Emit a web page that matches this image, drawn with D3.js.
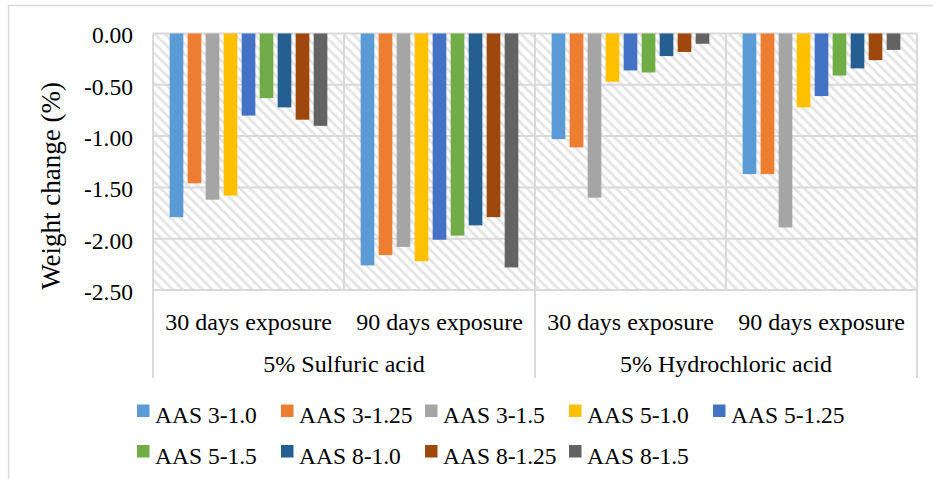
<!DOCTYPE html>
<html>
<head>
<meta charset="utf-8">
<script src="https://cdn.jsdelivr.net/npm/d3@7/dist/d3.min.js"></script>
<style>
  html, body { margin: 0; padding: 0; background: #fff; }
  svg { display: block; }
</style>
</head>
<body>
<svg id="chart" width="933" height="479"></svg>
<script>
// Acid groups and exposure periods (two-level category axis)
const acidGroups = ["5% Sulfuric acid", "5% Hydrochloric acid"];
const exposures = ["30 days exposure", "90 days exposure"];

// Mixes shown as series
const seriesNames = ["AAS 3-1.0", "AAS 3-1.25", "AAS 3-1.5", "AAS 5-1.0", "AAS 5-1.25",
                     "AAS 5-1.5", "AAS 8-1.0", "AAS 8-1.25", "AAS 8-1.5"];
const seriesColors = ["#5B9BD5", "#ED7D31", "#A5A5A5", "#FFC000", "#4472C4",
                      "#70AD47", "#255E91", "#9E480E", "#636363"];

// Weight change (%) per mix: [H2SO4 30d, H2SO4 90d, HCl 30d, HCl 90d]
const aas3_10  = [-1.79, -2.26, -1.03, -1.37];
const aas3_125 = [-1.46, -2.16, -1.11, -1.37];
const aas3_15  = [-1.62, -2.08, -1.60, -1.89];
const aas5_10  = [-1.58, -2.22, -0.47, -0.72];
const aas5_125 = [-0.80, -2.01, -0.36, -0.61];
const aas5_15  = [-0.63, -1.97, -0.38, -0.41];
const aas8_10  = [-0.72, -1.87, -0.22, -0.34];
const aas8_125 = [-0.84, -1.79, -0.18, -0.26];
const aas8_15  = [-0.90, -2.28, -0.10, -0.16];
const seriesValues = [aas3_10, aas3_125, aas3_15, aas5_10, aas5_125, aas5_15, aas8_10, aas8_125, aas8_15];

// Y axis ticks
const yTicks = [0, -0.5, -1.0, -1.5, -2.0, -2.5];
const yTitle = "Weight change (%)";

// Flattened category keys (group|exposure)
const categories = [];
acidGroups.forEach(g => exposures.forEach(e => categories.push(g + "|" + e)));

const svg = d3.select("#chart");
const serif = "Liberation Serif";
const gridColor = "#d9d9d9";
const fontSize = 23.5;
const catFontSize = 24;

const plot = { left: 153, right: 917, top: 33.5, bottom: 290 };
const axisBottom = 378;

// Chart border
svg.append("rect")
  .attr("x", 8.5).attr("y", 5.5)
  .attr("width", 940).attr("height", 490)
  .attr("fill", "#fff").attr("stroke", gridColor).attr("stroke-width", 1.5);

// Diagonal hatch fill for the plot area
const defs = svg.append("defs");
const pat = defs.append("pattern")
  .attr("id", "hatch")
  .attr("patternUnits", "userSpaceOnUse")
  .attr("width", 7).attr("height", 7)
  .attr("patternTransform", "rotate(-45)");
pat.append("rect").attr("width", 7).attr("height", 7).attr("fill", "#fff");
pat.append("line")
  .attr("x1", 1.5).attr("y1", 0).attr("x2", 1.5).attr("y2", 7)
  .attr("stroke", "#e3e3e3").attr("stroke-width", 2.6);

// Scales
const x0 = d3.scaleBand().domain(categories).range([plot.left, plot.right]).padding(0);
const x1 = d3.scaleBand().domain(seriesNames).range([0, x0.bandwidth()])
  .paddingInner(0.24).paddingOuter(0.925);
const y = d3.scaleLinear().domain([-2.5, 0]).range([plot.bottom, plot.top]);

svg.append("rect")
  .attr("x", plot.left).attr("y", plot.top)
  .attr("width", plot.right - plot.left).attr("height", plot.bottom - plot.top)
  .attr("fill", "url(#hatch)");

// Horizontal gridlines
svg.append("g").selectAll("line").data(yTicks).join("line")
  .attr("x1", plot.left).attr("x2", plot.right)
  .attr("y1", d => y(d)).attr("y2", d => y(d))
  .attr("stroke", gridColor).attr("stroke-width", 2);

// Vertical category separators: inner ones stop at plot bottom, outer ones run through the labels
const innerX = categories.filter((c, i) => i % 2 === 1).map(c => x0(c));
const outerX = [plot.left, x0(categories[2]), plot.right];
svg.append("g").selectAll("line").data(innerX).join("line")
  .attr("x1", d => d).attr("x2", d => d)
  .attr("y1", plot.top).attr("y2", plot.bottom)
  .attr("stroke", gridColor).attr("stroke-width", 2);
svg.append("g").selectAll("line").data(outerX).join("line")
  .attr("x1", d => d).attr("x2", d => d)
  .attr("y1", plot.top).attr("y2", axisBottom)
  .attr("stroke", gridColor).attr("stroke-width", 2);

// Bars
const barData = [];
categories.forEach((c, ci) => {
  seriesNames.forEach((s, si) => {
    barData.push({ cat: c, series: s, value: seriesValues[si][ci], color: seriesColors[si] });
  });
});
svg.append("g").selectAll("rect").data(barData).join("rect")
  .attr("x", d => x0(d.cat) + x1(d.series))
  .attr("width", x1.bandwidth())
  .attr("y", d => y(Math.max(0, d.value)))
  .attr("height", d => Math.abs(y(d.value) - y(0)))
  .attr("fill", d => d.color);

// Y axis labels
const fmt = d3.formatLocale({ decimal: ".", thousands: ",", grouping: [3], currency: ["", ""], minus: "-" }).format(".2f");
const yAxis = svg.append("g")
  .attr("transform", `translate(${plot.left},0)`)
  .call(d3.axisLeft(y).tickValues(yTicks).tickFormat(fmt).tickSize(0).tickPadding(20))
  .attr("font-family", serif)
  .attr("font-size", fontSize);
yAxis.select(".domain").remove();
yAxis.selectAll("text")
  .attr("dy", "0.4em")
  .attr("fill", "#000");

// Y axis title
svg.append("text")
  .attr("transform", "translate(60,186) rotate(-90)")
  .attr("text-anchor", "middle")
  .attr("font-family", serif)
  .attr("font-size", 27)
  .attr("fill", "#000")
  .text(yTitle);

// Inner category labels
svg.append("g").selectAll("text").data(categories).join("text")
  .attr("x", d => x0(d) + x0.bandwidth() / 2)
  .attr("y", 329.5)
  .attr("text-anchor", "middle")
  .attr("font-family", serif)
  .attr("font-size", catFontSize)
  .attr("fill", "#000")
  .text(d => d.split("|")[1]);

// Outer group labels
svg.append("g").selectAll("text").data(acidGroups).join("text")
  .attr("x", g => {
    const a = x0(g + "|" + exposures[0]);
    const b = x0(g + "|" + exposures[exposures.length - 1]) + x0.bandwidth();
    return (a + b) / 2;
  })
  .attr("y", 372)
  .attr("text-anchor", "middle")
  .attr("font-family", serif)
  .attr("font-size", catFontSize)
  .attr("fill", "#000")
  .text(g => g);

// Legend: 5 columns, 2 rows
const legend = svg.append("g");
const legendItems = legend.selectAll("g").data(seriesNames).join("g")
  .attr("transform", (d, i) => `translate(${137 + (i % 5) * 144},${404.5 + Math.floor(i / 5) * 40.5})`);
legendItems.append("rect")
  .attr("width", 12.5).attr("height", 12.5)
  .attr("fill", (d, i) => seriesColors[i]);
legendItems.append("text")
  .attr("x", 18).attr("y", 18.5)
  .attr("font-family", serif)
  .attr("font-size", fontSize)
  .attr("fill", "#000")
  .text(d => d);
</script>
</body>
</html>
